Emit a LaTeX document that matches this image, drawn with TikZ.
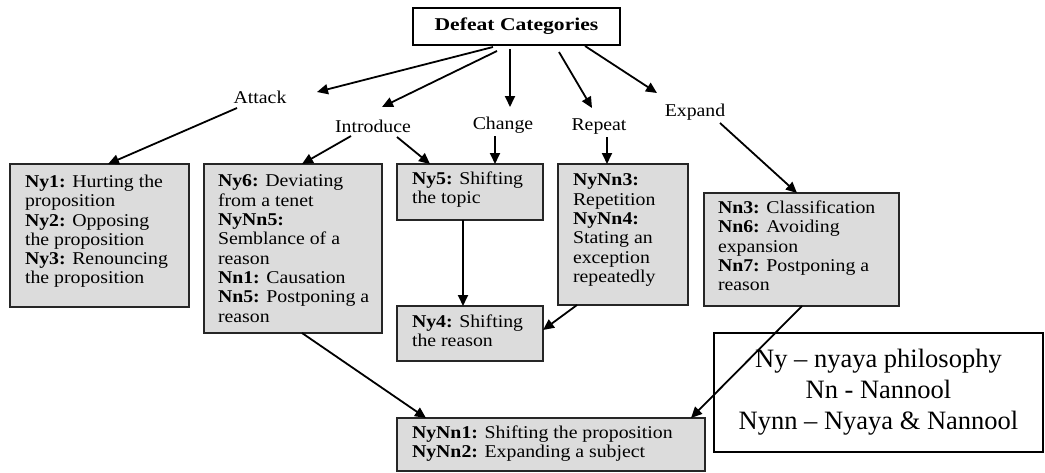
\documentclass[tikz,border=0pt]{standalone}
\usepackage{fontspec}
\setmainfont{Liberation Serif}
\newfontfamily\boxfont[FakeStretch=1.1]{Liberation Serif}
\newfontfamily\topfont[FakeStretch=1.2]{Liberation Serif}
\usetikzlibrary{arrows.meta}
\definecolor{boxgray}{HTML}{DCDCDC}
\newcommand{\btext}[5]{\parbox[c][#2pt][t]{#1pt}{\raggedright\leftskip=#3pt\relax\vspace*{#4pt}#5\par\vfil}}
\tikzset{
  gbox/.style={draw=black!85, line width=1.1pt, fill=boxgray, inner sep=0pt, outer sep=0pt, anchor=north west,
    font=\boxfont\fontsize{18}{19.3}\selectfont},
  lbl/.style={inner sep=0pt, font=\boxfont\fontsize{18}{19.3}\selectfont},
  arr/.style={line width=1.8pt, -{Triangle[length=11pt,width=10pt]}},
}
\begin{document}
\begin{tikzpicture}[x=1pt,y=-1pt]
\useasboundingbox (0,0) rectangle (1045,472);
% top node
\node[draw=black, line width=1.1pt, fill=white, minimum width=207pt, minimum height=37pt, inner sep=0pt, outer sep=0pt,
  font=\topfont\bfseries\fontsize{18}{20}\selectfont] (top) at (516.5,26.5) {Defeat Categories};
% category labels
\node[lbl] (attack) at (260,97) {Attack};
\node[lbl] (introduce) at (373,126) {Introduce};
\node[lbl] (change) at (503,125) {Change};
\node[lbl] (repeat) at (599,127) {Repeat};
\node[lbl] (expand) at (695,112) {Expand};
% boxes
\node[gbox] (b1) at (10,164) {\btext{179}{143}{15}{11}{\textbf{Ny1:} Hurting the\\ proposition\\ \textbf{Ny2:} Opposing\\ the proposition\\ \textbf{Ny3:} Renouncing\\ the proposition}};
\node[gbox] (b2) at (204,164) {\btext{178}{169}{14}{11}{\textbf{Ny6:} Deviating\\ from a tenet\\ \textbf{NyNn5:}\\ Semblance of a\\ reason\\ \textbf{Nn1:} Causation\\ \textbf{Nn5:} Postponing a\\ reason}};
\node[gbox] (ny5) at (397,164) {\btext{146}{56}{15}{8}{\textbf{Ny5:} Shifting\\ the topic}};
\node[gbox] (b4) at (558,164) {\btext{130}{141}{15}{10}{\textbf{NyNn3:}\\ Repetition\\ \textbf{NyNn4:}\\ Stating an\\ exception\\ repeatedly}};
\node[gbox] (b5) at (704,193) {\btext{195}{113}{14}{8}{\textbf{Nn3:} Classification\\ \textbf{Nn6:} Avoiding\\ expansion\\ \textbf{Nn7:} Postponing a\\ reason}};
\node[gbox] (ny4) at (397,306) {\btext{146}{55}{15}{9}{\textbf{Ny4:} Shifting\\ the reason}};
\node[gbox] (nynn) at (397,418) {\btext{308}{53}{15}{8}{\textbf{NyNn1:} Shifting the proposition\\[-0.6pt] \textbf{NyNn2:} Expanding a subject}};
% legend
\node[draw=black, line width=1.1pt, fill=white, minimum width=329pt, minimum height=119pt, inner sep=0pt, outer sep=0pt,
  anchor=north west, align=center, font=\fontsize{26.5}{31}\selectfont] (legend) at (714,333)
  {Ny -- nyaya philosophy\\ Nn - Nannool\\ Nynn -- Nyaya \& Nannool};
% arrows from top
\draw[arr] ([shift={(-23.5,2)}]top.south) -- ([shift={(57,-5)}]attack.center);
\draw[arr] ([shift={(-19.5,6)}]top.south) -- ([shift={(9,-19)}]introduce.center);
\draw[arr] ([shift={(-6.5,4)}]top.south) -- ([shift={(7,-18)}]change.center);
\draw[arr] ([shift={(42.5,7)}]top.south) -- ([shift={(-7,-19)}]repeat.center);
\draw[arr] ([shift={(68.5,1)}]top.south) -- ([shift={(-38,-19)}]expand.center);
% arrows from labels
\draw[arr] ([shift={(-23,11)}]attack.center) -- ([xshift=8.5pt]b1.north);
\draw[arr] ([shift={(-22,10)}]introduce.center) -- ([xshift=9pt]b2.north);
\draw[arr] ([shift={(24,11)}]introduce.center) -- ([xshift=-40pt]ny5.north);
\draw[arr] ([shift={(-8,11)}]change.center) -- ([xshift=25pt]ny5.north);
\draw[arr] ([shift={(8,10)}]repeat.center) -- ([xshift=-16pt]b4.north);
\draw[arr] ([shift={(25,11)}]expand.center) -- ([xshift=-4.5pt]b5.north);
% lower arrows
\draw[arr] ([xshift=-7pt]ny5.south) -- ([xshift=-7pt]ny4.north);
\draw[arr] ([xshift=-46pt]b4.south) -- ([yshift=3.5pt]ny4.east);
\draw[arr] ([xshift=9pt]b2.south) -- ([xshift=-125pt]nynn.north);
\draw[arr] ([xshift=0.5pt]b5.south) -- ([xshift=140pt]nynn.north);
\end{tikzpicture}
\end{document}
